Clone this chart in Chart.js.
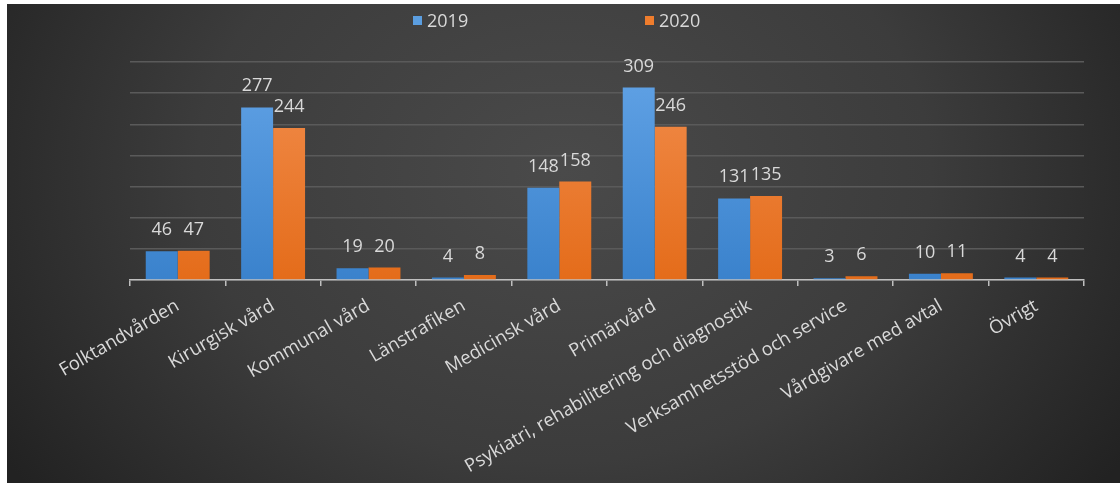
<!DOCTYPE html>
<html>
<head>
<meta charset="utf-8">
<script src="https://cdn.jsdelivr.net/npm/chart.js@4/dist/chart.umd.min.js"></script>
<style>
  html, body { margin: 0; padding: 0; background: #fff; }
  #wrap {
    position: absolute; left: 7px; top: 4px; width: 1113px; height: 479px;
    background: radial-gradient(ellipse 60% 110% at 50% 35%, #4a4a4a 0%, #3c3c3c 55%, #222 100%);
  }
</style>
</head>
<body>
<div id="wrap"><canvas id="bars" width="1113" height="479"></canvas></div>
<script>
const categories = ["Folktandvården", "Kirurgisk vård", "Kommunal vård", "Länstrafiken", "Medicinsk vård",
  "Primärvård", "Psykiatri, rehabilitering och diagnostik", "Verksamhetsstöd och service",
  "Vårdgivare med avtal", "Övrigt"];
const values2019 = [46, 277, 19, 4, 148, 309, 131, 3, 10, 4];
const values2020 = [47, 244, 20, 8, 158, 246, 135, 6, 11, 4];

const textColor = "#d9d9d9";
const fontFam = "'Open Sans', Lato, sans-serif";

function grad(ctx, top, bottom) {
  const area = ctx.chart.chartArea;
  if (!area) return top;
  const g = ctx.chart.ctx.createLinearGradient(0, area.top, 0, area.bottom);
  g.addColorStop(0, top);
  g.addColorStop(1, bottom);
  return g;
}

// value labels above bars + custom legend
const extras = {
  id: "extras",
  afterDatasetsDraw(chart) {
    const c = chart.ctx;
    c.save();
    c.fillStyle = textColor;
    c.font = "18px " + fontFam;
    c.textAlign = "center";
    c.textBaseline = "alphabetic";
    chart.data.datasets.forEach((ds, i) => {
      chart.getDatasetMeta(i).data.forEach((bar, j) => {
        c.fillText(ds.data[j], bar.x, bar.y - 16);
      });
    });
    // legend
    const items = [{ x: 406, col: "#5b9ee0" }, { x: 638, col: "#ef7d2d" }];
    c.textAlign = "left";
    c.font = "18px " + fontFam;
    items.forEach((it, i) => {
      c.fillStyle = it.col;
      c.fillRect(it.x, 12, 9, 9);
      c.fillStyle = textColor;
      c.fillText(chart.data.datasets[i].label, it.x + 14, 23);
    });
    c.restore();
  }
};

new Chart(document.getElementById("bars"), {
  type: "bar",
  data: {
    labels: categories,
    datasets: [
      { label: "2019", data: values2019, backgroundColor: ctx => grad(ctx, "#62a3e6", "#3a82cc") },
      { label: "2020", data: values2020, backgroundColor: ctx => grad(ctx, "#f28e4e", "#e46c1a") }
    ]
  },
  options: {
    responsive: false,
    animation: false,
    categoryPercentage: 0.67,
    barPercentage: 1.0,
    layout: { padding: { top: 58, right: 36, left: 0, bottom: 0 } },
    plugins: { legend: { display: false }, tooltip: { enabled: false } },
    scales: {
      x: {
        afterFit(scale) { scale.height = 203; },
        grid: { offset: true, drawOnChartArea: false, color: "#bfbfbf", tickLength: 6, lineWidth: 1.5 },
        border: { color: "#bfbfbf", width: 1.5 },
        ticks: { color: textColor, font: { family: fontFam, size: 18.5 }, minRotation: 30, maxRotation: 30, autoSkip: false, padding: 9 }
      },
      y: {
        min: 0, max: 350,
        afterFit(scale) { scale.width = 123; },
        ticks: { display: false, stepSize: 50 },
        grid: { color: "#5a5a5a", lineWidth: 1.5, drawTicks: false },
        border: { display: false }
      }
    }
  },
  plugins: [extras]
});
</script>
</body>
</html>
